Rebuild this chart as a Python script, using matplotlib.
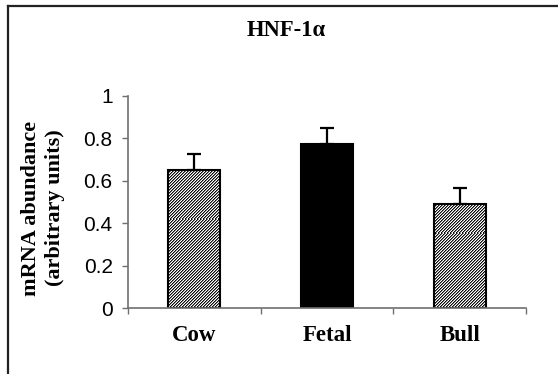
import matplotlib
matplotlib.use("Agg")
import numpy as np
import matplotlib.pyplot as plt
from matplotlib.lines import Line2D

groups = ["Cow", "Fetal", "Bull"]
abundance = [0.652, 0.774, 0.492]
sem = [0.075, 0.075, 0.075]
y_ticks = [0, 0.2, 0.4, 0.6, 0.8, 1]
y_tick_labels = ["0", "0.2", "0.4", "0.6", "0.8", "1"]
title = "HNF-1α"
ylabel_lines = ["mRNA abundance", "(arbitrary units)"]

W, H = 558, 374
fig = plt.figure(figsize=(W / 100, H / 100), dpi=100)

ax_l, ax_r, ax_t, ax_b = 128, 526, 96, 308
ax_w, ax_h = ax_r - ax_l, ax_b - ax_t
ax = fig.add_axes([ax_l / W, 1 - ax_b / H, ax_w / W, ax_h / H])
ax.set_xlim(-0.5, 2.5)
ax.set_ylim(0, 1)

x = list(range(len(groups)))
hatched = [True, False, True]
faces = ["none" if h else "black" for h in hatched]
bars = ax.bar(x, abundance, width=0.39, color=faces, edgecolor="black",
              linewidth=1.5, zorder=2)

# fine diagonal stripe texture, one pixel per cell, clipped to the hatched bars
rows, cols = np.indices((ax_h, ax_w))
levels = np.array([0.05, 0.5, 1.0])
texture = levels[(rows + cols) % 3]
for b, h in zip(bars, hatched):
    if h:
        im = ax.imshow(texture, cmap="gray", vmin=0, vmax=1, extent=(-0.5, 2.5, 0, 1),
                       aspect="auto", interpolation="nearest", zorder=1.9)
        im.set_clip_path(b)

ax.errorbar(x, abundance, yerr=[[0] * len(sem), sem], fmt="none",
            ecolor="black", elinewidth=1.6, capsize=5.2, capthick=1.6, zorder=3)

ax.set_xlim(-0.5, 2.5)
ax.set_ylim(0, 1)
for s in ["top", "right"]:
    ax.spines[s].set_visible(False)
for s in ["left", "bottom"]:
    ax.spines[s].set_color("#707070")
    ax.spines[s].set_linewidth(1.2)

ax.set_yticks(y_ticks)
ax.set_yticklabels(y_tick_labels, fontfamily="Liberation Sans", fontsize=15)
ax.tick_params(axis="y", direction="out", length=4, width=1, color="#707070", pad=7)

ax.set_xticks(x)
ax.set_xticklabels(groups, fontfamily="Liberation Serif", fontweight="bold", fontsize=16.5)
ax.set_xticks([-0.5, 0.5, 1.5, 2.5], minor=True)
ax.tick_params(axis="x", which="major", length=0, pad=12)
ax.tick_params(axis="x", which="minor", direction="out", length=4, width=1, color="#707070")

fig.text(286 / W, 1 - 30.5 / H, title, ha="center", va="center",
         fontfamily="Liberation Serif", fontweight="bold", fontsize=16.3)
fig.text(31 / W, 1 - 208 / H, ylabel_lines[0], rotation=90, ha="center", va="center",
         fontfamily="Liberation Serif", fontweight="bold", fontsize=16)
fig.text(55 / W, 1 - 208 / H, ylabel_lines[1], rotation=90, ha="center", va="center",
         fontfamily="Liberation Serif", fontweight="bold", fontsize=16)

# frame around the figure (top and left edges)
fig.add_artist(Line2D([7.5 / W, 7.5 / W], [0, 1 - 5.5 / H], transform=fig.transFigure,
                      color="#222222", linewidth=1.6))
fig.add_artist(Line2D([7.5 / W, 1], [1 - 5.5 / H, 1 - 5.5 / H], transform=fig.transFigure,
                      color="#222222", linewidth=1.6))

fig.savefig("out.png", dpi=100)
